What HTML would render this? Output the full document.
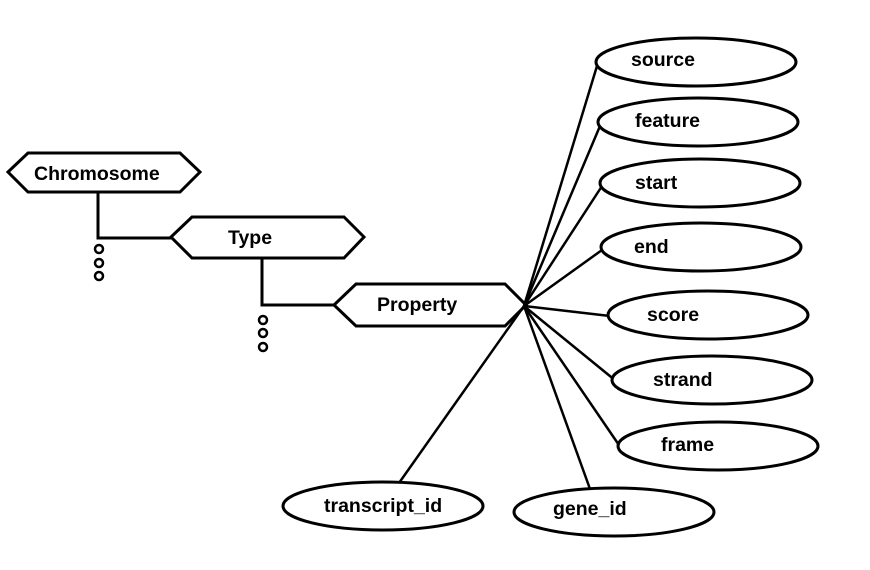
<!DOCTYPE html>
<html><head><style>html,body{margin:0;padding:0;background:#fff}svg{display:block}</style></head>
<body>
<svg width="870" height="570" viewBox="0 0 870 570" xmlns="http://www.w3.org/2000/svg">
<g fill="none" stroke="#000" stroke-width="3">
<polygon points="8,172 28,153 180,153 200,172 180,192 28,192" fill="#fff"/>
<polygon points="171,237 192,217 344,217 364,237 344,258 192,258" fill="#fff"/>
<polygon points="334,305 356,284 505,284 526,305 505,326 356,326" fill="#fff"/>
<polyline points="98,192 98,238 171,238"/>
<polyline points="262,258 262,305 334,305"/>
<g stroke-width="2.5">
<circle cx="99" cy="249" r="4"/><circle cx="99" cy="263" r="4"/><circle cx="99" cy="276" r="4"/>
<circle cx="263" cy="320" r="4"/><circle cx="263" cy="333" r="4"/><circle cx="263" cy="347" r="4"/>
</g>
<g stroke-width="2.5">
<line x1="524" y1="306" x2="597" y2="66"/>
<line x1="524" y1="306" x2="600" y2="126"/>
<line x1="524" y1="306" x2="602" y2="186"/>
<line x1="524" y1="306" x2="602" y2="250"/>
<line x1="524" y1="306" x2="610" y2="316"/>
<line x1="524" y1="306" x2="616" y2="381"/>
<line x1="524" y1="306" x2="621" y2="448"/>
<line x1="524" y1="306" x2="399" y2="483"/>
<line x1="524" y1="306" x2="590" y2="489"/>
</g>
<g fill="#fff">
<ellipse cx="696" cy="62" rx="100" ry="24"/>
<ellipse cx="698" cy="122" rx="100" ry="24"/>
<ellipse cx="700" cy="183" rx="100" ry="24"/>
<ellipse cx="701" cy="247" rx="100" ry="24"/>
<ellipse cx="708" cy="315" rx="100" ry="24"/>
<ellipse cx="712" cy="380" rx="100" ry="24"/>
<ellipse cx="718" cy="446" rx="100" ry="24"/>
<ellipse cx="383" cy="506" rx="100" ry="24"/>
<ellipse cx="614" cy="512" rx="100" ry="24"/>
</g>
</g>
<g font-family="Liberation Sans, sans-serif" font-weight="bold" font-size="19.5" fill="#000">
<text x="34" y="180">Chromosome</text>
<text x="228" y="244">Type</text>
<text x="377" y="311">Property</text>
<text x="631" y="66">source</text>
<text x="635" y="127">feature</text>
<text x="635" y="189">start</text>
<text x="634" y="253">end</text>
<text x="647" y="321">score</text>
<text x="653" y="386">strand</text>
<text x="661" y="451">frame</text>
<text x="324" y="512">transcript_id</text>
<text x="553" y="515">gene_id</text>
</g>
</svg>
</body></html>
